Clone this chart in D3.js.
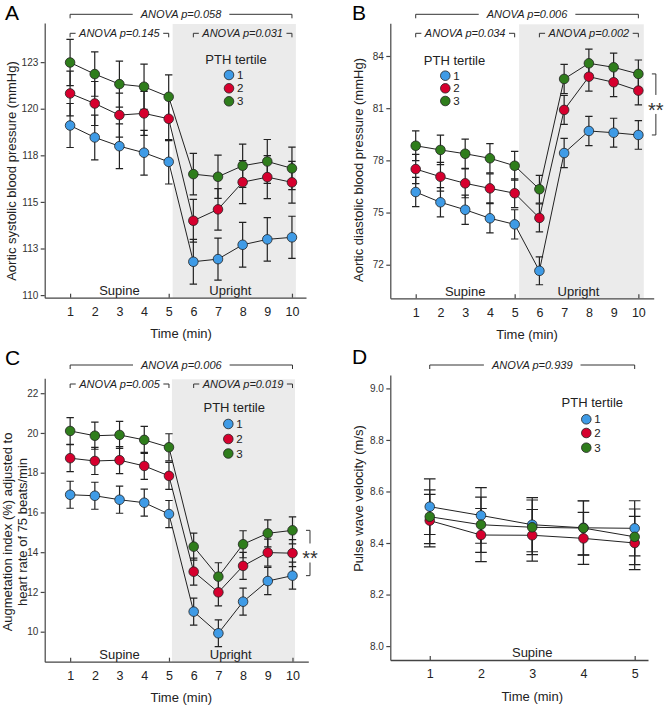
<!DOCTYPE html>
<html><head><meta charset="utf-8">
<script src="https://cdn.jsdelivr.net/npm/d3@7"></script>
<style>
body{margin:0;background:#fff}
svg{display:block}
text{font-family:"Liberation Sans",Arial,Helvetica,sans-serif}
</style>
</head><body>
<svg id="c" width="667" height="705"></svg>
<script>
// ---------- data ----------
const tertiles = ["1", "2", "3"];
const tertileColors = ["#3f9be6", "#d6002e", "#2f7d1c"];
const time10 = [1, 2, 3, 4, 5, 6, 7, 8, 9, 10];
const time5 = [1, 2, 3, 4, 5];

// A: aortic systolic blood pressure (mmHg)
const sbpT1 = [119.10, 118.46, 117.99, 117.64, 117.15, 111.79, 111.93, 112.70, 112.99, 113.10];
const sbpT2 = [120.82, 120.28, 119.66, 119.75, 119.46, 113.99, 114.60, 116.06, 116.33, 116.05];
const sbpT3 = [122.48, 121.86, 121.32, 121.18, 120.64, 116.49, 116.35, 116.94, 117.17, 116.80];
const sbpErr1 = [1.18, 1.20, 1.20, 1.20, 1.19, 1.20, 1.13, 1.20, 1.17, 1.13];
const sbpErr2 = [1.20, 1.18, 1.18, 1.18, 1.17, 1.15, 1.11, 1.15, 1.15, 1.12];
const sbpErr3 = [1.24, 1.19, 1.23, 1.21, 1.18, 1.11, 1.16, 1.16, 1.18, 1.14];
const sbpTicks = [110, 112.5, 115, 117.5, 120, 122.5];
const sbpTickLabels = ["110", "113", "115", "118", "120", "123"];

// B: aortic diastolic blood pressure (mmHg)
const dbpT1 = [76.18, 75.59, 75.16, 74.67, 74.32, 71.65, 78.42, 79.69, 79.59, 79.46];
const dbpT2 = [77.50, 77.06, 76.68, 76.39, 76.11, 74.69, 80.90, 82.81, 82.49, 82.01];
const dbpT3 = [78.84, 78.60, 78.38, 78.12, 77.69, 76.34, 82.68, 83.58, 83.35, 82.97];
const dbpErr1 = [0.84, 0.84, 0.84, 0.84, 0.84, 0.80, 0.84, 0.84, 0.83, 0.82];
const dbpErr2 = [0.84, 0.83, 0.83, 0.83, 0.83, 0.80, 0.83, 0.83, 0.82, 0.82];
const dbpErr3 = [0.85, 0.85, 0.84, 0.84, 0.83, 0.80, 0.84, 0.82, 0.82, 0.80];
const dbpTicks = [72, 75, 78, 81, 84];
const dbpTickLabels = ["72", "75", "78", "81", "84"];

// C: augmentation index adjusted to HR 75 (%)
const aixT1 = [16.89, 16.84, 16.64, 16.49, 15.92, 11.01, 9.92, 11.51, 12.55, 12.82];
const aixT2 = [18.73, 18.59, 18.63, 18.34, 17.84, 13.02, 11.98, 13.31, 13.98, 13.95];
const aixT3 = [20.10, 19.86, 19.90, 19.65, 19.28, 14.28, 12.77, 14.40, 14.95, 15.10];
const aixErr1 = [0.68, 0.68, 0.68, 0.68, 0.68, 0.68, 0.67, 0.68, 0.68, 0.68];
const aixErr2 = [0.68, 0.68, 0.68, 0.68, 0.68, 0.68, 0.68, 0.68, 0.68, 0.68];
const aixErr3 = [0.67, 0.68, 0.68, 0.68, 0.68, 0.68, 0.70, 0.68, 0.68, 0.68];
const aixTicks = [10, 12, 14, 16, 18, 20, 22];
const aixTickLabels = ["10", "12", "14", "16", "18", "20", "22"];

// D: pulse wave velocity (m/s)
const pwvT1 = [8.541, 8.507, 8.471, 8.459, 8.457];
const pwvT2 = [8.487, 8.431, 8.430, 8.418, 8.400];
const pwvT3 = [8.502, 8.471, 8.461, 8.458, 8.424];
const pwvErr1 = [0.108, 0.108, 0.105, 0.105, 0.107];
const pwvErr2 = [0.102, 0.103, 0.100, 0.101, 0.103];
const pwvErr3 = [0.104, 0.107, 0.106, 0.105, 0.108];
const pwvTicks = [8.0, 8.2, 8.4, 8.6, 8.8, 9.0];
const pwvTickLabels = ["8.0", "8.2", "8.4", "8.6", "8.8", "9.0"];

// ANOVA labels
const anovaA = ["ANOVA p=0.058", "ANOVA p=0.145", "ANOVA p=0.031"];
const anovaB = ["ANOVA p=0.006", "ANOVA p=0.034", "ANOVA p=0.002"];
const anovaC = ["ANOVA p=0.006", "ANOVA p=0.005", "ANOVA p=0.019"];
const anovaD = ["ANOVA p=0.939"];

// ---------- drawing ----------
const svg = d3.select("#c");
const INK = "#222";

function bracket(g, x1, x2, yl, label, pad) {
  const mid = (x1 + x2) / 2;
  const t = g.append("text").attr("x", mid).attr("y", yl).attr("dy", "0.36em")
    .attr("text-anchor", "middle").attr("font-style", "italic").attr("font-size", 11)
    .attr("fill", INK).text(label);
  const w = t.node().getComputedTextLength();
  g.append("path")
    .attr("d", `M${x1},${yl + 4}V${yl}H${mid - w / 2 - pad}M${mid + w / 2 + pad},${yl}H${x2}V${yl + 4}`)
    .attr("fill", "none").attr("stroke", "#333").attr("stroke-width", 1);
}

function panel(p) {
  const g = svg.append("g");
  const x = d3.scaleLinear().domain(p.xDomain).range(p.xRange);
  const y = d3.scaleLinear().domain(p.yDomain).range(p.yRange);
  const y0 = p.yRange[0];

  if (p.shade) {
    g.append("rect").attr("x", x(p.shade[0])).attr("width", x(p.shade[1]) - x(p.shade[0]))
      .attr("y", p.yRange[1] + 1).attr("height", y0 - p.yRange[1] - 1).attr("fill", "#ebebeb");
  }

  // y axis
  const ya = g.append("g").attr("transform", `translate(${p.xRange[0]},0)`)
    .call(d3.axisLeft(y).tickValues(p.yTicks).tickFormat((d, i) => p.yTickLabels[i])
      .tickSizeInner(4).tickSizeOuter(0).tickPadding(2.4));
  ya.selectAll("path,line").attr("stroke", "#444").attr("stroke-width", 1.2);
  ya.selectAll("text").attr("font-size", 10).attr("fill", "#333").attr("font-family", null);

  // x axis (labels)
  const xa = g.append("g").attr("transform", `translate(0,${y0})`)
    .call(d3.axisBottom(x).tickValues(p.times).tickFormat(d3.format("d"))
      .tickSizeInner(0).tickSizeOuter(0).tickPadding(9.6));
  xa.select("path").attr("stroke", "#444").attr("stroke-width", 1.3);
  xa.selectAll("line").remove();
  xa.selectAll("text").attr("font-size", 12.5).attr("fill", INK).attr("font-family", null);
  // x inner tick marks
  const xm = g.append("g").attr("transform", `translate(0,${y0})`)
    .call(d3.axisBottom(x).tickValues(p.xMarks).tickSizeInner(-4).tickSizeOuter(0).tickFormat(""));
  xm.select("path").remove();
  xm.selectAll("line").attr("stroke", "#444").attr("stroke-width", 1.2);

  // axis titles
  g.append("text").attr("x", x(p.xTitleAt)).attr("y", y0 + 40.5).attr("text-anchor", "middle")
    .attr("font-size", 13).attr("fill", INK).text("Time (min)");
  p.yTitle.forEach((line, i) => {
    g.append("text").attr("transform", `translate(${p.yTitleX[i]},${p.yTitleY}) rotate(-90)`)
      .attr("dy", "0.35em").attr("text-anchor", "middle").attr("font-size", 13).attr("fill", INK).text(line);
  });

  // phase labels
  p.phases.forEach(ph => {
    g.append("text").attr("x", x(ph[1])).attr("y", y0 - 2.6).attr("text-anchor", "middle")
      .attr("font-size", 13).attr("fill", INK).text(ph[0]);
  });

  // panel letter
  g.append("text").attr("x", p.letterPos[0]).attr("y", p.letterPos[1]).attr("font-size", 21)
    .attr("fill", "#000").text(p.letter);

  // ANOVA brackets
  const t0 = p.times[0], tl = p.times[p.times.length - 1];
  bracket(g, x(t0), x(tl), p.mainY, p.anova[0], 8);
  if (p.anova.length > 1) {
    bracket(g, x(1), x(5), p.subY, p.anova[1], 3.5);
    bracket(g, x(6), x(10), p.subY, p.anova[2], 3.5);
  }

  const line = d3.line().x((d, i) => x(p.times[i])).y(d => y(d));
  // connecting lines
  p.series.forEach(s => {
    g.append("path").attr("d", line(s)).attr("fill", "none").attr("stroke", INK).attr("stroke-width", 1);
  });
  // error bars
  p.series.forEach((s, k) => {
    s.forEach((v, i) => {
      const e = p.errors[k][i], xx = x(p.times[i]);
      const yt = y(v + e), yb = y(v - e), c = p.cap;
      g.append("path").attr("d", `M${xx},${yt}V${yb}M${xx - c},${yt}H${xx + c}M${xx - c},${yb}H${xx + c}`)
        .attr("fill", "none").attr("stroke", INK).attr("stroke-width", 1.2);
    });
  });
  // markers
  p.series.forEach((s, k) => {
    g.selectAll(null).data(s).join("circle")
      .attr("cx", (d, i) => x(p.times[i])).attr("cy", d => y(d)).attr("r", 4.8)
      .attr("fill", tertileColors[k]).attr("stroke", "#222").attr("stroke-width", 0.8);
  });

  // significance bracket
  if (p.sig) {
    const last = p.times.length - 1;
    const xs = x(p.times[last]) + 17.5;
    const yt = y(p.series[2][last]), yb = y(p.series[0][last]);
    const mid = (yt + yb) / 2;
    g.append("path").attr("d", `M${xs - 4},${yt}H${xs}V${mid - 9.5}M${xs},${mid + 9.5}V${yb}H${xs - 4}`)
      .attr("fill", "none").attr("stroke", "#333").attr("stroke-width", 1);
    g.append("text").attr("x", xs).attr("y", mid + 12.5).attr("text-anchor", "middle")
      .attr("font-size", 20).attr("fill", "#333").text("**");
  }

  // legend
  const L = p.legend;
  g.append("text").attr("x", L.titleX).attr("y", L.titleY).attr("dy", "0.36em").attr("text-anchor", "middle")
    .attr("font-size", 13).attr("fill", INK).text("PTH tertile");
  tertiles.forEach((name, k) => {
    g.append("circle").attr("cx", L.cx).attr("cy", L.cys[k]).attr("r", 4.8)
      .attr("fill", tertileColors[k]).attr("stroke", "#222").attr("stroke-width", 0.8);
    g.append("text").attr("x", L.cx + 8).attr("y", L.cys[k]).attr("dy", "0.36em")
      .attr("font-size", 11.5).attr("fill", INK).text(name);
  });
}

panel({
  letter: "A", letterPos: [5, 20],
  times: time10, xDomain: [-0.03, 10.57], xRange: [44.7, 306],
  yDomain: [109.86, 124.6], yRange: [297.7, 23],
  yTicks: sbpTicks, yTickLabels: sbpTickLabels,
  xMarks: [1, 5, 10], xTitleAt: 5.5,
  yTitle: ["Aortic systolic blood pressure (mmHg)"], yTitleX: [11.7], yTitleY: 171,
  shade: [5.16, 10.16],
  phases: [["Supine", 3], ["Upright", 7.5]],
  anova: anovaA, mainY: 14.3, subY: 33.3,
  series: [sbpT1, sbpT2, sbpT3], errors: [sbpErr1, sbpErr2, sbpErr3], cap: 3.7,
  sig: false,
  legend: { titleX: 236, titleY: 59, cx: 229, cys: [75, 88.3, 101.3] }
});

panel({
  letter: "B", letterPos: [352, 19.5],
  times: time10, xDomain: [-0.027, 10.62], xRange: [390.3, 653.7],
  yDomain: [70.07, 85.88], yRange: [298.3, 23.3],
  yTicks: dbpTicks, yTickLabels: dbpTickLabels,
  xMarks: [1, 5, 10], xTitleAt: 5.5,
  yTitle: ["Aortic diastolic blood pressure (mmHg)"], yTitleX: [358.3], yTitleY: 170,
  shade: [5.18, 10.22],
  phases: [["Supine", 3], ["Upright", 7.58]],
  anova: anovaB, mainY: 14.3, subY: 33.3,
  series: [dbpT1, dbpT2, dbpT3], errors: [dbpErr1, dbpErr2, dbpErr3], cap: 3.7,
  sig: true,
  legend: { titleX: 454.5, titleY: 60, cx: 445.3, cys: [75.7, 88.3, 101] }
});

panel({
  letter: "C", letterPos: [5, 365],
  times: time10, xDomain: [-0.03, 10.64], xRange: [44.7, 308.3],
  yDomain: [8.49, 22.75], yRange: [661.7, 378.3],
  yTicks: aixTicks, yTickLabels: aixTickLabels,
  xMarks: [1, 5, 10], xTitleAt: 5.5,
  yTitle: ["Augmetation index (%) adjusted to", "heart rate of 75 beats/min"], yTitleX: [7.5, 22], yTitleY: 532,
  shade: [5.12, 10.1],
  phases: [["Supine", 3], ["Upright", 7.5]],
  anova: anovaC, mainY: 365, subY: 384,
  series: [aixT1, aixT2, aixT3], errors: [aixErr1, aixErr2, aixErr3], cap: 3.7,
  sig: true,
  legend: { titleX: 234.2, titleY: 407.7, cx: 228.3, cys: [424, 439, 453.5] }
});

panel({
  letter: "D", letterPos: [352, 364],
  times: time5, xDomain: [0.23, 5.26], xRange: [390.3, 648],
  yDomain: [7.946, 9.052], yRange: [660, 375],
  yTicks: pwvTicks, yTickLabels: pwvTickLabels,
  xMarks: [1, 5], xTitleAt: 3,
  yTitle: ["Pulse wave velocity (m/s)"], yTitleX: [358.5], yTitleY: 498.5,
  shade: null,
  phases: [["Supine", 3]],
  anova: anovaD, mainY: 365,
  series: [pwvT1, pwvT2, pwvT3], errors: [pwvErr1, pwvErr2, pwvErr3], cap: 5.8,
  sig: false,
  legend: { titleX: 592.3, titleY: 402.3, cx: 586.3, cys: [419.3, 433, 447.7] }
});
</script>
</body></html>
